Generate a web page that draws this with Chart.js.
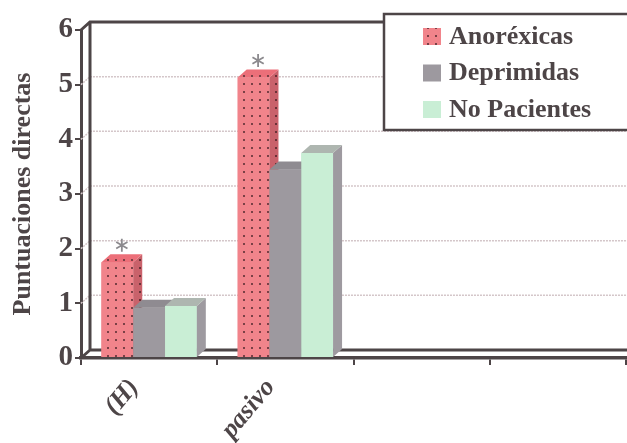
<!DOCTYPE html>
<html lang="es">
<head>
<meta charset="UTF-8">
<title>Puntuaciones directas</title>
<script src="https://cdn.jsdelivr.net/npm/chart.js"></script>
<style>
  * { margin: 0; padding: 0; box-sizing: border-box; }
  body { background: #fff; width: 627px; height: 443px; overflow: hidden; }
</style>
</head>
<body>
<canvas id="chart" width="627" height="443"></canvas>
<script>
  // data
  const categories = ['(H)', 'pasivo', '', ''];
  const anorexicas = [1.75, 5.13, null, null];
  const deprimidas = [0.92, 3.45, null, null];
  const noPacientes = [0.95, 3.75, null, null];
  const marks = ['*', '*', '', ''];   // significance marks over Anoréxicas
  const yTicks = [0, 1, 2, 3, 4, 5, 6];

  const ink = '#4d4547';
  const depthX = 9, depthY = -8;
  const serif = '"Liberation Serif", "DejaVu Serif", serif';

  const canvas = document.getElementById('chart');
  const ctx = canvas.getContext('2d');

  function dotPattern(base, dot) {
    const c = document.createElement('canvas');
    c.width = 8; c.height = 8;
    const g = c.getContext('2d');
    g.fillStyle = base;
    g.fillRect(0, 0, 8, 8);
    g.fillStyle = dot;
    g.fillRect(3, 3, 2, 2);
    return ctx.createPattern(c, 'repeat');
  }

  const redFront = dotPattern('#f1848b', '#7a4046');
  const redSide = dotPattern('#c9626b', '#6a3238');
  const redTop = dotPattern('#ec6f79', '#7a4046');

  function drawStar(c, x, y, r) {
    c.beginPath();
    for (let k = 0; k < 3; k++) {
      const ang = Math.PI / 2 + k * Math.PI / 3;
      c.moveTo(x + r * Math.cos(ang), y + r * Math.sin(ang));
      c.lineTo(x - r * Math.cos(ang), y - r * Math.sin(ang));
    }
    c.stroke();
  }

  const boxPlugin = {
    id: 'box3d',
    beforeDatasetsDraw(chart) {
      const { ctx, chartArea: a, scales: { y } } = chart;
      const bx = a.left + depthX, ty = a.top + depthY, by = a.bottom + depthY;
      ctx.save();
      // dotted grid on the back wall
      ctx.strokeStyle = '#d4c6c9';
      ctx.lineWidth = 1.5;
      ctx.setLineDash([2, 1]);
      yTicks.slice(1, -1).forEach(v => {
        const py = y.getPixelForValue(v);
        ctx.beginPath();
        ctx.moveTo(a.left, py);
        ctx.lineTo(bx, py + depthY);
        ctx.lineTo(chart.width, py + depthY);
        ctx.stroke();
      });
      ctx.setLineDash([]);
      // wall edges
      ctx.strokeStyle = ink;
      ctx.lineWidth = 3;
      ctx.beginPath();
      ctx.moveTo(a.left, a.top); ctx.lineTo(bx, ty); ctx.lineTo(chart.width, ty);
      ctx.moveTo(bx, ty); ctx.lineTo(bx, by); ctx.lineTo(chart.width, by);
      ctx.moveTo(a.left, a.bottom); ctx.lineTo(bx, by);
      ctx.stroke();
      ctx.restore();
    },
    afterDatasetsDraw(chart) {
      const c = chart.ctx;
      // left to right: front face, then its side and top, so the next bar hides the side
      chart.data.datasets.forEach((ds, di) => {
        const meta = chart.getDatasetMeta(di);
        meta.data.forEach((bar, i) => {
          if (ds.data[i] == null) return;
          bar.draw(c);
          const l = bar.x - bar.width / 2, r = bar.x + bar.width / 2;
          const t = bar.y, b = bar.base;
          c.save();
          c.fillStyle = ds.sideColor;
          c.beginPath();
          c.moveTo(r, t); c.lineTo(r + depthX, t + depthY);
          c.lineTo(r + depthX, b + depthY); c.lineTo(r, b);
          c.closePath(); c.fill();
          c.fillStyle = ds.topColor;
          c.beginPath();
          c.moveTo(l, t); c.lineTo(l + depthX, t + depthY);
          c.lineTo(r + depthX, t + depthY); c.lineTo(r, t);
          c.closePath(); c.fill();
          if (ds.marks && ds.marks[i]) {
            c.strokeStyle = '#8c8a8e';
            c.lineWidth = 1.8;
            drawStar(c, bar.x + depthX / 2, t + depthY - 9, 6.5);
          }
          c.restore();
        });
      });
    },
    afterDraw(chart) {
      const c = chart.ctx;
      c.save();
      c.fillStyle = '#fff';
      c.fillRect(384, 14, 260, 116);
      c.strokeStyle = ink;
      c.lineWidth = 2.5;
      c.strokeRect(384, 14, 260, 116);
      c.font = 'bold 26px ' + serif;
      c.textBaseline = 'middle';
      chart.data.datasets.forEach((ds, i) => {
        const cy = 36 + i * 36.5;
        c.fillStyle = ds.backgroundColor;
        c.fillRect(423, cy - 8, 18, 17);
        c.fillStyle = ink;
        c.fillText(ds.label, 449, cy + 1);
      });
      c.restore();
    }
  };

  new Chart(ctx, {
    type: 'bar',
    data: {
      labels: categories,
      datasets: [
        { label: 'Anoréxicas', data: anorexicas, backgroundColor: redFront, sideColor: redSide, topColor: redTop, marks: marks },
        { label: 'Deprimidas', data: deprimidas, backgroundColor: '#9d999f', sideColor: '#7f7b81', topColor: '#8f8b91' },
        { label: 'No Pacientes', data: noPacientes, backgroundColor: '#c9eed5', sideColor: '#9e9aa0', topColor: '#aeb6b0' }
      ]
    },
    options: {
      responsive: false,
      animation: false,
      devicePixelRatio: 1,
      categoryPercentage: 0.7,
      barPercentage: 1.0,
      layout: { padding: { top: 30, right: 1, left: 0, bottom: 0 } },
      plugins: {
        legend: { display: false },
        tooltip: { enabled: false }
      },
      font: { family: serif },
      scales: {
        x: {
          offset: true,
          grid: { offset: true, drawOnChartArea: false, tickLength: 7, color: ink, lineWidth: 2 },
          border: { color: ink, width: 3.5 },
          ticks: {
            color: ink,
            autoSkip: false,
            maxRotation: 50,
            minRotation: 50,
            padding: 8,
            labelOffset: -15,
            font: { family: serif, size: 26, weight: 'bold', style: 'italic' }
          },
          afterFit: s => { s.height = 85; }
        },
        y: {
          min: 0,
          max: 6,
          afterBuildTicks: s => { s.ticks = yTicks.map(v => ({ value: v })); },
          grid: { drawOnChartArea: false, tickLength: 6, color: ink, lineWidth: 2 },
          border: { color: ink, width: 3 },
          ticks: { color: ink, padding: 2, font: { family: serif, size: 29, weight: 'bold' } },
          title: {
            display: true,
            text: 'Puntuaciones directas',
            color: ink,
            padding: { top: 8, bottom: 0 },
            font: { family: serif, size: 26, weight: 'bold' }
          },
          afterFit: s => { s.width = 81; }
        }
      }
    },
    plugins: [boxPlugin]
  });
</script>
</body>
</html>
